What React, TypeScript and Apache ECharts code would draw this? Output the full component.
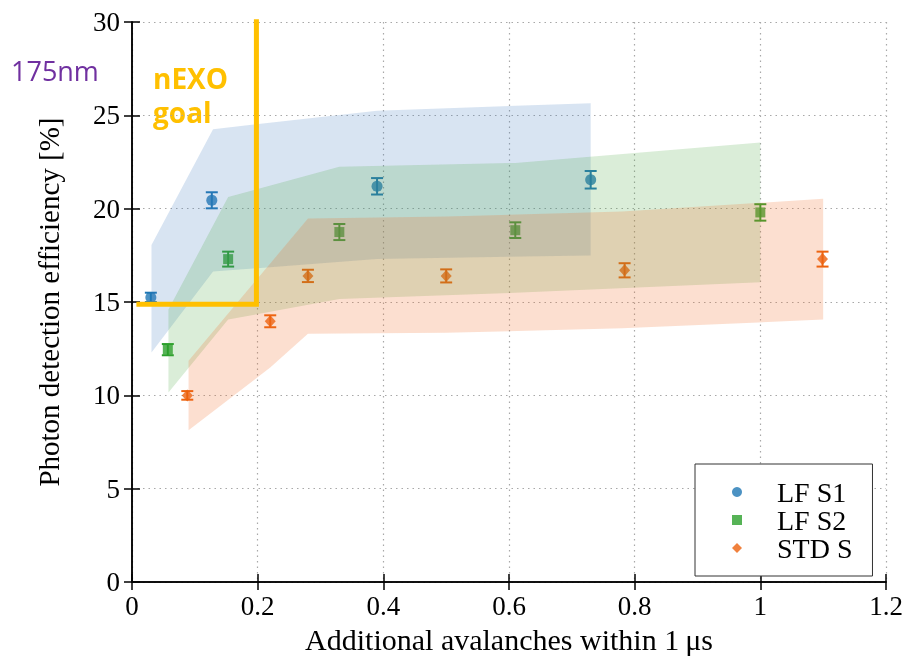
import React, { useEffect, useRef } from "react";
import * as echarts from "echarts";

// Measured points (x = additional avalanches, y = PDE %, e = error)
const s1X = [0.03, 0.127, 0.39, 0.73];
const s1Y = [15.25, 20.45, 21.2, 21.55];
const s1E = [0.25, 0.43, 0.44, 0.47];

const s2X = [0.057, 0.153, 0.33, 0.61, 1.0];
const s2Y = [12.45, 17.3, 18.75, 18.85, 19.8];
const s2E = [0.3, 0.4, 0.43, 0.42, 0.44];

const s3X = [0.088, 0.22, 0.28, 0.5, 0.784, 1.099];
const s3Y = [10.0, 13.97, 16.4, 16.4, 16.7, 17.3];
const s3E = [0.23, 0.32, 0.33, 0.35, 0.38, 0.4];

// Uncertainty bands
const b1X = [0.031, 0.129, 0.39, 0.73];
const b1Lo = [12.3, 16.63, 17.3, 17.5];
const b1Hi = [18.05, 24.26, 25.25, 25.65];

const b2X = [0.058, 0.153, 0.33, 0.61, 1.0];
const b2Lo = [10.16, 14.06, 15.17, 15.5, 16.06];
const b2Hi = [14.6, 20.62, 22.25, 22.45, 23.55];

const b3X = [0.09, 0.22, 0.28, 0.5, 0.78, 1.1];
const b3Lo = [8.14, 11.49, 13.3, 13.35, 13.6, 14.06];
const b3Hi = [11.86, 17.07, 19.47, 19.58, 19.85, 20.53];

// nEXO goal outline
const goalX = [0.007, 0.198, 0.198];
const goalY = [14.88, 14.88, 30.15];

const seriesNames = ["LF S1", "LF S2", "STD S"];
const xTicks = { min: 0, max: 1.2, interval: 0.2 };
const yTicks = { min: 0, max: 30, interval: 5 };

const BLUE = "#1f77b4";
const GREEN = "#2ca02c";
const ORANGE = "#ec620c";

const SERIF = "'Liberation Serif', 'DejaVu Serif', serif";

function bandSeries(xs: number[], lo: number[], hi: number[], fill: string) {
  return {
    type: "custom",
    silent: true,
    z: 4,
    clip: false,
    data: [[xs[0], lo[0]]],
    encode: { x: 0, y: 1 },
    renderItem: (_p: any, api: any) => {
      const pts: number[][] = [];
      for (let i = 0; i < xs.length; i++) pts.push(api.coord([xs[i], hi[i]]));
      for (let i = xs.length - 1; i >= 0; i--) pts.push(api.coord([xs[i], lo[i]]));
      return { type: "polygon", shape: { points: pts }, style: { fill } };
    },
  };
}

function errSeries(xs: number[], ys: number[], es: number[], color: string) {
  return {
    type: "custom",
    silent: true,
    z: 3,
    data: xs.map((x, i) => [x, ys[i], es[i]]),
    encode: { x: 0, y: 1 },
    renderItem: (_p: any, api: any) => {
      const x = api.value(0);
      const y = api.value(1);
      const e = api.value(2);
      const t = api.coord([x, y + e]);
      const b = api.coord([x, y - e]);
      const hw = 6;
      const st = { stroke: color, lineWidth: 2 };
      return {
        type: "group",
        children: [
          { type: "line", shape: { x1: t[0], y1: t[1], x2: b[0], y2: b[1] }, style: st },
          { type: "line", shape: { x1: t[0] - hw, y1: t[1], x2: t[0] + hw, y2: t[1] }, style: st },
          { type: "line", shape: { x1: b[0] - hw, y1: b[1], x2: b[0] + hw, y2: b[1] }, style: st },
        ],
      };
    },
  };
}

export default function App() {
  const ref = useRef<HTMLDivElement>(null);
  useEffect(() => {
    if (!ref.current) return;
    const chart = echarts.init(ref.current, null, { renderer: "svg" });
    const axisLine = { show: true, lineStyle: { color: "#000", width: 1.5 } };
    const tick = { show: true, inside: true, length: 8, lineStyle: { color: "#000", width: 1.5 } };
    const grid = { show: true, lineStyle: { color: "#a8a8a8", width: 1.2, type: [1.5, 4] } };
    const fmt = (v: number) => String(+v.toFixed(1));
    const lbl = { fontFamily: SERIF, fontSize: 27, color: "#000" };
    chart.setOption({
      animation: false,
      grid: { left: 132, right: 24, top: 22, bottom: 73 },
      legend: {
        data: seriesNames,
        orient: "vertical",
        left: 695,
        top: 464,
        padding: [14, 20, 14, 37],
        itemGap: 0,
        itemWidth: 10,
        itemHeight: 10,
        backgroundColor: "#fff",
        borderColor: "#333",
        borderWidth: 1,
        borderRadius: 0,
        textStyle: {
          fontFamily: SERIF,
          fontSize: 28,
          color: "#000",
          lineHeight: 28,
          height: 28,
          padding: [0, 0, 0, 30],
        },
      },
      xAxis: [
        {
          type: "value",
          ...xTicks,
          name: "Additional avalanches within 1\u2009\u03bcs",
          nameLocation: "middle",
          nameGap: 19,
          nameTextStyle: { ...lbl, fontSize: 30 },
          axisLine,
          axisTick: tick,
          splitLine: grid,
          axisLabel: { ...lbl, margin: 10, formatter: fmt },
        },
        {
          type: "value",
          position: "top",
          ...xTicks,
          axisLine,
          axisTick: tick,
          splitLine: { show: false },
          axisLabel: { show: false },
        },
      ],
      yAxis: [
        {
          type: "value",
          ...yTicks,
          name: "Photon detection efficiency [%]",
          nameLocation: "middle",
          nameGap: 69,
          nameTextStyle: { ...lbl, fontSize: 29 },
          axisLine,
          axisTick: tick,
          splitLine: grid,
          axisLabel: { ...lbl, margin: 12 },
        },
        {
          type: "value",
          position: "right",
          ...yTicks,
          axisLine,
          axisTick: tick,
          splitLine: { show: false },
          axisLabel: { show: false },
        },
      ],
      series: [
        {
          name: seriesNames[0],
          type: "scatter",
          symbol: "circle",
          symbolSize: 11,
          itemStyle: { color: BLUE },
          z: 3,
          data: s1X.map((x, i) => [x, s1Y[i]]),
        },
        {
          name: seriesNames[1],
          type: "scatter",
          symbol: "rect",
          symbolSize: 10,
          itemStyle: { color: GREEN },
          z: 3,
          data: s2X.map((x, i) => [x, s2Y[i]]),
        },
        {
          name: seriesNames[2],
          type: "scatter",
          symbol: "diamond",
          symbolSize: [11, 12],
          itemStyle: { color: ORANGE },
          z: 3,
          data: s3X.map((x, i) => [x, s3Y[i]]),
        },
        errSeries(s1X, s1Y, s1E, BLUE),
        errSeries(s2X, s2Y, s2E, GREEN),
        errSeries(s3X, s3Y, s3E, ORANGE),
        bandSeries(b1X, b1Lo, b1Hi, "rgba(60,120,190,0.2)"),
        bandSeries(b2X, b2Lo, b2Hi, "rgba(70,165,60,0.2)"),
        bandSeries(b3X, b3Lo, b3Hi, "rgba(240,110,40,0.22)"),
        {
          type: "line",
          silent: true,
          clip: false,
          symbol: "none",
          z: 6,
          lineStyle: { color: "#ffc000", width: 5, join: "miter", cap: "butt" },
          data: goalX.map((x, i) => [x, goalY[i]]),
        },
      ],
      graphic: [
        {
          type: "text",
          left: 11,
          top: 57,
          style: {
            text: "175nm",
            fill: "#7030a0",
            font: "27px 'Open Sans', 'Noto Sans', sans-serif",
          },
        },
        {
          type: "text",
          left: 153,
          top: 64,
          style: {
            text: "nEXO",
            fill: "#ffc000",
            font: "bold 28px 'Open Sans', 'Noto Sans', sans-serif",
          },
        },
        {
          type: "text",
          left: 153,
          top: 98,
          style: {
            text: "goal",
            fill: "#ffc000",
            font: "bold 28px 'Open Sans', 'Noto Sans', sans-serif",
          },
        },
      ],
    });
    return () => chart.dispose();
  }, []);
  return (
    <div
      ref={ref}
      style={{ position: "fixed", left: 0, top: 0, width: 910, height: 659 }}
    />
  );
}
